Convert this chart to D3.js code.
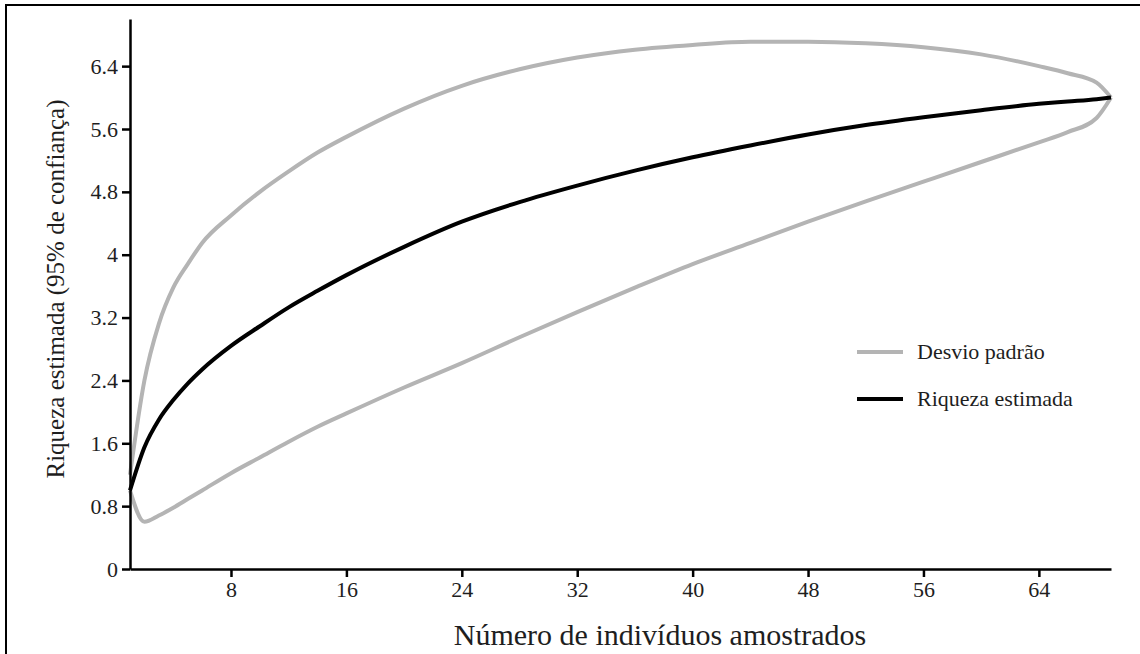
<!DOCTYPE html>
<html>
<head>
<meta charset="utf-8">
<script src="https://d3js.org/d3.v7.min.js"></script>
<style>
  body { margin: 0; background: #fff; }
</style>
</head>
<body>
<script>
// numero de individuos amostrados (eixo x)
var individuos = [1, 2, 3, 4, 5, 6, 8, 10, 12, 14, 16, 20, 24, 28, 32, 36, 40, 44, 48, 52, 56, 60, 64, 66, 68, 69];
// riqueza estimada
var riqueza    = [1.0, 1.55, 1.9, 2.15, 2.36, 2.54, 2.84, 3.09, 3.33, 3.54, 3.74, 4.1, 4.42, 4.67, 4.88, 5.07, 5.24, 5.39, 5.53, 5.65, 5.75, 5.84, 5.92, 5.95, 5.98, 6.0];
// limites do desvio padrao
var desvioSup  = [1.2, 2.4, 3.12, 3.58, 3.88, 4.15, 4.5, 4.8, 5.06, 5.3, 5.5, 5.86, 6.15, 6.36, 6.51, 6.61, 6.67, 6.71, 6.71, 6.69, 6.64, 6.55, 6.4, 6.31, 6.19, 6.0];
var desvioInf  = [1.0, 0.6, 0.68, 0.78, 0.89, 1.0, 1.22, 1.42, 1.62, 1.81, 1.98, 2.31, 2.62, 2.95, 3.27, 3.58, 3.88, 4.15, 4.42, 4.68, 4.93, 5.18, 5.43, 5.56, 5.74, 6.0];

var yTicks = [0, 0.8, 1.6, 2.4, 3.2, 4, 4.8, 5.6, 6.4];
var xTicks = [8, 16, 24, 32, 40, 48, 56, 64];

var legenda = ['Desvio padrão', 'Riqueza estimada'];
var cores = ['#b4b4b4', '#000'];

const w = 1140;
const h = 654;
const fonte = '"Liberation Serif", "Times New Roman", Times, serif';

var svg = d3.select('body')
  .append('svg')
  .attr('width', w)
  .attr('height', h)

// moldura (so aparecem esquerda e topo)
svg.append('rect')
  .attr('x', 6)
  .attr('y', 5)
  .attr('width', w + 20)
  .attr('height', h + 20)
  .attr('fill', 'none')
  .attr('stroke', '#000')
  .attr('stroke-width', 2)

var xScale = d3.scaleLinear()
  .domain([1, 69])
  .range([130, 1111])

var yScale = d3.scaleLinear()
  .domain([0, 7])
  .range([569, 19])

var linha = function(vals) {
  return d3.line()
    .x((d, i) => xScale(individuos[i]))
    .y((d) => yScale(d))
    .curve(d3.curveMonotoneX)(vals)
}

svg.append('path')
  .attr('d', linha(desvioSup))
  .attr('fill', 'none')
  .attr('stroke', cores[0])
  .attr('stroke-width', 4)

svg.append('path')
  .attr('d', linha(desvioInf))
  .attr('fill', 'none')
  .attr('stroke', cores[0])
  .attr('stroke-width', 4)

svg.append('path')
  .attr('d', linha(riqueza))
  .attr('fill', 'none')
  .attr('stroke', cores[1])
  .attr('stroke-width', 4)

const xAxis = d3.axisBottom(xScale)
  .tickValues(xTicks)
  .tickSize(8)
  .tickSizeOuter(0)
  .tickPadding(4)

const yAxis = d3.axisLeft(yScale)
  .tickValues(yTicks)
  .tickSize(8)
  .tickSizeOuter(0)
  .tickPadding(4)
  .tickFormat((d) => String(+d.toFixed(1)))

svg.append('g')
  .attr('transform', 'translate(0,569)')
  .call(xAxis)

svg.append('g')
  .attr('transform', 'translate(130,0)')
  .call(yAxis)

svg.selectAll('.domain, .tick line')
  .attr('stroke', '#000')
  .attr('stroke-width', 2.5)

svg.selectAll('.tick text')
  .style('font-family', fonte)
  .style('font-size', '22px')
  .attr('fill', '#1e1e1e')

// titulos dos eixos
svg.append('text')
  .attr('text-anchor', 'middle')
  .attr('transform', 'translate(64,289)rotate(-90)')
  .style('font-family', fonte)
  .style('font-size', '25px')
  .attr('fill', '#1e1e1e')
  .text('Riqueza estimada (95% de confiança)')

svg.append('text')
  .attr('text-anchor', 'middle')
  .attr('x', 660)
  .attr('y', 645)
  .style('font-family', fonte)
  .style('font-size', '30px')
  .attr('fill', '#1e1e1e')
  .text('Número de indivíduos amostrados')

// legenda
var leg = svg.append('g')
  .selectAll('g')
  .data(legenda)
  .enter()
  .append('g')
  .attr('transform', (d, i) => 'translate(857,' + (352 + i * 47) + ')')

leg.append('line')
  .attr('x1', 0)
  .attr('x2', 46)
  .attr('stroke', (d, i) => cores[i])
  .attr('stroke-width', 4)

leg.append('text')
  .attr('x', 60)
  .attr('y', 7)
  .style('font-family', fonte)
  .style('font-size', '22px')
  .attr('fill', '#1e1e1e')
  .text((d) => d)
</script>
</body>
</html>
